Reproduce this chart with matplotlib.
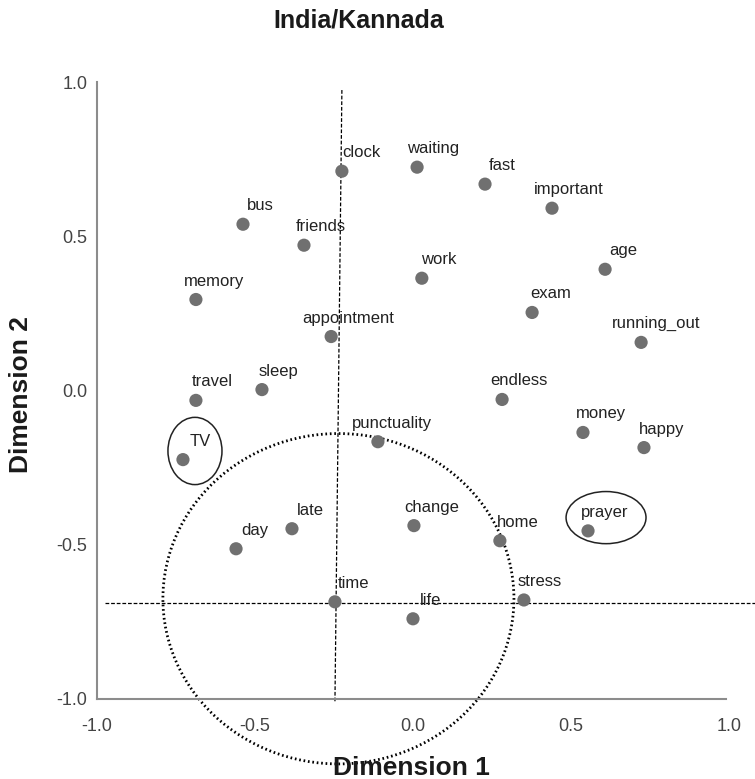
"""
India/Kannada: two-dimensional map of time-related words.
"""

import matplotlib
matplotlib.use("Agg")
import matplotlib.pyplot as plt
from matplotlib.patches import Ellipse

plt.rcParams["font.family"] = ["Liberation Sans", "DejaVu Sans"]

WORDS = [
    "clock", "waiting", "fast", "important", "bus", "friends", "age", "work",
    "memory", "exam", "appointment", "running_out", "sleep", "travel",
    "endless", "money", "happy", "punctuality", "TV", "change", "late",
    "home", "prayer", "day", "time", "stress", "life",
]
DIM1 = [
    -0.225, 0.013, 0.228, 0.440, -0.538, -0.345, 0.608, 0.028,
    -0.687, 0.377, -0.259, 0.722, -0.478, -0.687,
    0.282, 0.538, 0.731, -0.111, -0.728, 0.003, -0.383,
    0.275, 0.554, -0.560, -0.247, 0.351, 0.000,
]
DIM2 = [
    0.711, 0.724, 0.669, 0.591, 0.539, 0.471, 0.393, 0.364,
    0.295, 0.253, 0.175, 0.156, 0.003, -0.032,
    -0.029, -0.136, -0.185, -0.166, -0.224, -0.438, -0.448,
    -0.487, -0.455, -0.513, -0.685, -0.679, -0.740,
]

# horizontal shift of each word label relative to its point (pixels)
LABEL_DX = {
    "clock": 0, "waiting": -10, "fast": 4, "important": -18, "bus": 4,
    "friends": -8, "age": 4, "work": -1, "memory": -12, "exam": -2,
    "appointment": -29, "running_out": -29, "sleep": -3, "travel": -4,
    "endless": -12, "money": -7, "happy": -5, "punctuality": -26, "TV": 7,
    "change": -10, "late": 5, "home": -3, "prayer": -7, "day": 5,
    "time": 3, "stress": -6, "life": 7,
}

PX = 0.72  # points per pixel at dpi 100


def main():
    fig = plt.figure(figsize=(7.55, 7.79), dpi=100)
    ax = fig.add_axes([0.1285, 0.1027, 0.837, 0.792])

    ax.set_xlim(-1.0, 1.0)
    ax.set_ylim(-1.0, 1.0)

    # reference lines and highlight shapes
    ax.plot([-0.225, -0.247], [0.974, -1.01], color="black", lw=0.9,
            ls=(0, (3, 1.5)), clip_on=False, zorder=2)
    ax.plot([-0.975, 1.082], [-0.688, -0.688], color="black", lw=0.9,
            ls=(0, (3, 1.5)), clip_on=False, zorder=2)

    circle = Ellipse((-0.236, -0.675), 1.111, 1.071, fill=False,
                     edgecolor="black", lw=2.0, ls=(0, (0.6, 1.0)),
                     clip_on=False, zorder=2)
    ax.add_patch(circle)
    ax.add_patch(Ellipse((-0.690, -0.196), 0.171, 0.218, fill=False,
                         edgecolor="#222222", lw=1.1, clip_on=False))
    ax.add_patch(Ellipse((0.611, -0.412), 0.253, 0.169, fill=False,
                         edgecolor="#222222", lw=1.1, clip_on=False))

    ax.scatter(DIM1, DIM2, s=90, color="#707070", edgecolors="none", zorder=3)

    for word, x, y in zip(WORDS, DIM1, DIM2):
        ax.annotate(word, (x, y), xytext=(LABEL_DX[word] * PX, 18.5 * PX),
                    textcoords="offset points", ha="left", va="center",
                    fontsize=12, color="#222222", zorder=4)

    for side in ("top", "right"):
        ax.spines[side].set_visible(False)
    for side in ("left", "bottom"):
        ax.spines[side].set_color("#8c8c8c")
        ax.spines[side].set_linewidth(1.5)
    ax.spines["bottom"].set_bounds(-1.0, 0.99)

    ticks = [-1.0, -0.5, 0.0, 0.5, 1.0]
    ax.set_xticks(ticks)
    ax.set_yticks(ticks)
    ax.set_xticklabels([f"{t:.1f}" for t in ticks])
    ax.set_yticklabels([f"{t:.1f}" for t in ticks])
    ax.tick_params(length=0, labelsize=13, labelcolor="#444444")
    ax.tick_params(axis="x", pad=14)
    ax.tick_params(axis="y", pad=7)

    fig.text(411 / 755, 1 - 768 / 779, "Dimension 1", ha="center",
             va="center", fontsize=19, fontweight="bold", color="#1a1a1a")
    fig.text(21 / 755, 1 - 395 / 779, "Dimension 2", ha="center",
             va="center", rotation=90, fontsize=19, fontweight="bold",
             color="#1a1a1a")
    fig.text(359 / 755, 1 - 21 / 779, "India/Kannada", ha="center",
             va="center", fontsize=18, fontweight="bold", color="#1a1a1a")

    fig.savefig("out.png", dpi=100)
    plt.close(fig)


if __name__ == "__main__":
    main()
